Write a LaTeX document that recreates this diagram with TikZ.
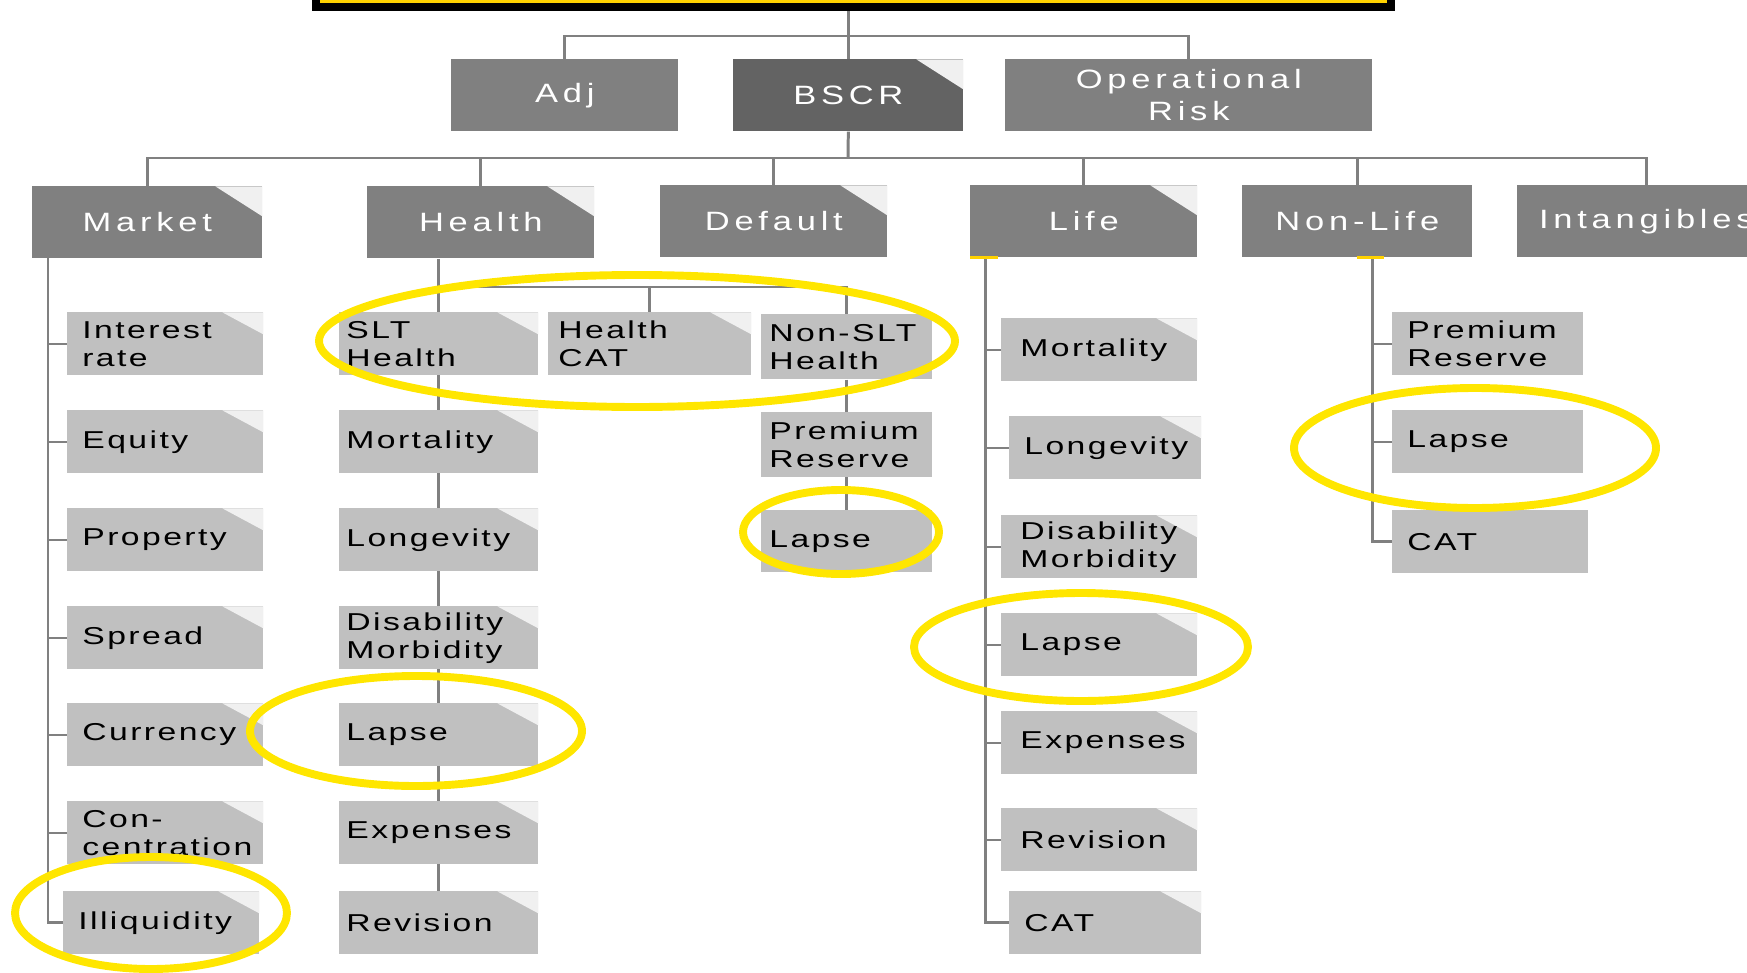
\documentclass[tikz,border=0pt]{standalone}
\usepackage{fontspec}
\usetikzlibrary{backgrounds}
\newfontfamily\topfont[FakeStretch=1.3,LetterSpace=18]{Liberation Sans}
\newfontfamily\subfont[FakeStretch=1.38,LetterSpace=10]{Liberation Sans}
\definecolor{boxgray}{RGB}{128,128,128}
\definecolor{bscrgray}{RGB}{99,99,99}
\definecolor{subgray}{RGB}{192,192,192}
\definecolor{foldgray}{RGB}{240,240,240}
\definecolor{linegray}{RGB}{128,128,128}
\definecolor{ringyellow}{RGB}{255,230,0}
\definecolor{titleyellow}{RGB}{255,210,0}
\hyphenpenalty=10000
\exhyphenpenalty=10000

\begin{document}
\begin{tikzpicture}[x=0.02cm, y=-0.02cm,
  top/.style={fill=boxgray, text=white, font=\topfont\fontsize{15.1}{18.2}\selectfont,
    align=center, inner sep=0, anchor=north west, minimum height=1.44cm},
  fold/.style={path picture={\fill[foldgray] ([xshift=-0.94cm]path picture bounding box.north east)
    -- (path picture bounding box.north east) -- ([yshift=-0.6cm]path picture bounding box.north east) -- cycle;}},
  sub/.style={fill=subgray, text=black, font=\subfont\fontsize{13.9}{15.9}\selectfont,
    align=left, inner ysep=0, anchor=north west, minimum height=1.26cm},
  subfold/.style={path picture={\fill[foldgray] ([xshift=-0.82cm]path picture bounding box.north east)
    -- (path picture bounding box.north east) -- ([yshift=-0.44cm]path picture bounding box.north east) -- cycle;}},
  mk/.style={sub, subfold, text width=3.32cm, inner xsep=0.3cm},
  hl/.style={sub, subfold, text width=3.70cm, inner xsep=0.14cm},
  df/.style={sub, text width=3.10cm, inner xsep=0.16cm, minimum height=1.3cm},
  lf/.style={sub, subfold, text width=3.16cm, inner xsep=0.38cm},
  nl/.style={sub, text width=3.22cm, inner xsep=0.3cm},
  conn/.style={draw=linegray, line width=1.7pt},
  tick/.style={draw=linegray, line width=1.1pt},
  ring/.style={draw=ringyellow, line width=4.5pt}]
  \useasboundingbox (0,0) rectangle (1747,973);
  \clip (0,0) rectangle (1747,973);

  \node[fill=titleyellow, draw=black, line width=4.55pt, anchor=south west, minimum width=21.5cm, minimum height=2cm] (title) at (312,11) {};

  \node[top, minimum width=4.54cm] (adj) at (451,59) {Adj};
  \node[top, fold, fill=bscrgray, minimum width=4.6cm] (bscr) at (733,59) {BSCR};
  \node[top, minimum width=7.34cm] (oprisk) at (1005,59) {Operational\\Risk};

  \node[top, fold, minimum width=4.6cm] (market) at (32,186) {Market};
  \node[top, fold, minimum width=4.54cm] (health) at (367,186) {Health};
  \node[top, fold, minimum width=4.54cm] (default) at (660,185) {Default};
  \node[top, fold, minimum width=4.54cm] (life) at (970,185) {Life};
  \node[top, minimum width=4.6cm] (nonlife) at (1242,185) {Non-Life};
  \node[top, minimum width=5.16cm] (intang) at (1517,185) {Intangibles};

  \node[mk] (intrate) at (67,312) {Interest\\rate};
  \node[mk] (equity) at (67,410) {Equity};
  \node[mk] (property) at (67,508) {Property};
  \node[mk] (spread) at (67,606) {Spread};
  \node[mk] (currency) at (67,703) {Currency};
  \node[mk] (concent) at (67,801) {Con-\\centration};
  \node[mk] (illiq) at (63,891) {Illiquidity};

  \node[hl] (sltheal) at (339,312) {SLT\\Health};
  \node[hl, text width=3.66cm, inner xsep=0.2cm] (hcat) at (548,312) {Health\\CAT};
  \node[df] (nslt) at (761,314) {Non-SLT\\Health};
  \node[df] (hprem) at (761,412) {Premium\\Reserve};
  \node[df, minimum height=1.24cm] (nsltlapse) at (761,510) {Lapse};
  \node[hl] (hmort) at (339,410) {Mortality};
  \node[hl] (hlong) at (339,508) {Longevity};
  \node[hl] (hdis) at (339,606) {Disability\\Morbidity};
  \node[hl] (hlapse) at (339,703) {Lapse};
  \node[hl] (hexp) at (339,801) {Expenses};
  \node[hl] (hrev) at (339,891) {Revision};

  \node[lf] (lmort) at (1001,318) {Mortality};
  \node[lf, text width=3.24cm, inner xsep=0.3cm] (llong) at (1009,416) {Longevity};
  \node[lf] (ldis) at (1001,515) {Disability\\Morbidity};
  \node[lf] (llapse) at (1001,613) {Lapse};
  \node[lf] (lexp) at (1001,711) {Expenses};
  \node[lf] (lrev) at (1001,808) {Revision};
  \node[lf, text width=3.24cm, inner xsep=0.3cm] (lcat) at (1009,891) {CAT};

  \node[nl] (nprem) at (1392,312) {Premium\\Reserve};
  \node[nl] (nlapse) at (1392,410) {Lapse};
  \node[nl, text width=3.32cm] (ncat) at (1392,510) {CAT};

  \begin{scope}[on background layer]
    \coordinate (opbus) at (850,36);
    \coordinate (riskbus) at (848,158);
    \draw[conn] (bscr.north) -- (bscr.north |- title.south);
    \draw[conn] (adj.north) |- (opbus) -| (oprisk.north);
    \draw[conn] (bscr.south) -- (riskbus);
    \draw[conn] (market.north) |- (riskbus) -| (intang.north);
    \draw[conn] (health.north) -- (health.north |- riskbus);
    \draw[conn] (default.north) -- (default.north |- riskbus);
    \draw[conn] (life.north) -- (life.north |- riskbus);
    \draw[conn] (nonlife.north) -- (nonlife.north |- riskbus);

    \coordinate (mkline) at (48,258);
    \draw[conn] (mkline) |- (illiq.west);
    \draw[tick] (intrate.west) -- (intrate.west -| mkline);
    \draw[tick] (equity.west) -- (equity.west -| mkline);
    \draw[tick] (property.west) -- (property.west -| mkline);
    \draw[tick] (spread.west) -- (spread.west -| mkline);
    \draw[tick] (currency.west) -- (currency.west -| mkline);
    \draw[tick] (concent.west) -- (concent.west -| mkline);

    \coordinate (hbus) at (438,287);
    \draw[conn] (sltheal.north |- health.south) -- (hrev.north);
    \draw[conn] (nslt.north) |- (hbus);
    \draw[conn] (hcat.north) -- (hcat.north |- hbus);
    \draw[conn] (nslt.south) -- (nsltlapse.north);

    \coordinate (lfline) at (985,256);
    \draw[conn] (lfline) |- (lcat.west);
    \draw[tick] (lmort.west) -- (lmort.west -| lfline);
    \draw[tick] (llong.west) -- (llong.west -| lfline);
    \draw[tick] (ldis.west) -- (ldis.west -| lfline);
    \draw[tick] (llapse.west) -- (llapse.west -| lfline);
    \draw[tick] (lexp.west) -- (lexp.west -| lfline);
    \draw[tick] (lrev.west) -- (lrev.west -| lfline);

    \coordinate (nlline) at (1372,256);
    \draw[conn] (nlline) |- (ncat.west);
    \draw[tick] (nprem.west) -- (nprem.west -| nlline);
    \draw[tick] (nlapse.west) -- (nlapse.west -| nlline);
  \end{scope}

  \fill[titleyellow] (970,256) rectangle (998,259);
  \fill[titleyellow] (1357,256) rectangle (1384,259);

  \draw[ring] (637,341) ellipse [x radius=318, y radius=66];
  \draw[ring] (841,532) ellipse [x radius=98, y radius=42];
  \draw[ring] (416,731) ellipse [x radius=166, y radius=55];
  \draw[ring] (151,913) ellipse [x radius=136, y radius=56];
  \draw[ring] (1081,647) ellipse [x radius=167, y radius=54];
  \draw[ring] (1475,448) ellipse [x radius=181, y radius=60];
\end{tikzpicture}
\end{document}
